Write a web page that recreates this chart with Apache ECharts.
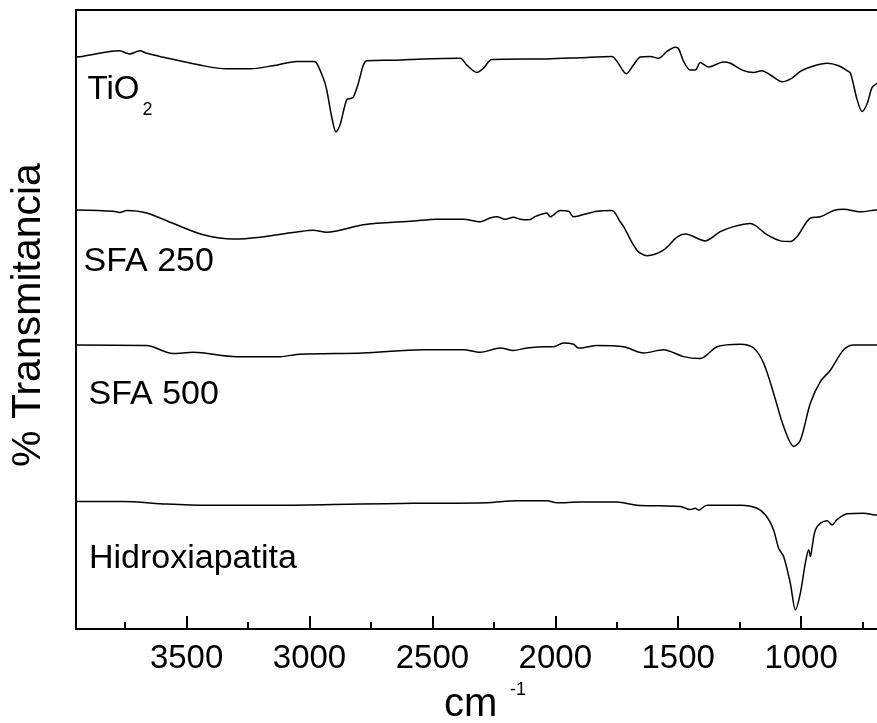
<!DOCTYPE html>
<html><head><meta charset="utf-8">
<script src="https://cdn.jsdelivr.net/npm/echarts@6/dist/echarts.min.js"></script>
<style>html,body{margin:0;padding:0;background:#fff}#c{width:877px;height:723px}</style>
</head><body><div id="c"></div>
<script>
const FONT = "'Liberation Sans', Arial, sans-serif";

// Wavenumbers (cm-1) and % transmittance (offset, arbitrary) for each spectrum
const tio2Wn = [3950,3925,3812,3772,3743,3731,3702,3690,3662,3609,3446,3336,3242,3149,3052,2986,2974,2944,2930,2910,2892,2876,2849,2835,2822,2801,2781,2767,2645,2537,2387,2360,2319,2292,2258,2034,1899,1770,1749,1711,1682,1654,1614,1580,1546,1512,1498,1478,1451,1430,1410,1376,1315,1288,1234,1193,1159,1125,1077,1037,1003,962,894,847,813,799,772,752,731,711,689,680];
const tio2T  = [92.4,92.5,93.3,93.4,93.0,92.9,93.3,93.4,93.0,92.5,91.1,90.5,90.5,91.0,91.7,91.7,91.6,89.0,87.1,82.8,80.3,81.4,85.5,85.7,85.9,88.2,91.1,91.8,91.9,92.1,92.2,91.1,89.9,90.6,92.0,92.1,92.3,92.5,91.7,89.7,91.1,92.4,92.5,92.2,93.3,94.0,93.7,91.7,90.3,90.3,91.5,90.8,91.6,91.4,90.2,89.9,90.2,89.5,88.4,89.0,90.1,90.8,91.4,91.0,90.2,89.8,85.5,83.6,84.9,87.5,88.2,88.5];

const sfa250Wn = [3950,3799,3772,3744,3663,3541,3432,3310,3202,3039,2985,2930,2781,2577,2482,2374,2306,2265,2238,2204,2170,2143,2109,2078,2034,2021,1980,1946,1926,1899,1831,1770,1736,1722,1668,1627,1560,1505,1471,1390,1329,1274,1206,1139,1084,1044,1016,962,921,867,827,759,689,680];
const sfa250T  = [67.7,67.5,67.3,67.6,67.2,65.3,63.7,63.0,63.3,64.2,64.4,64.1,65.3,65.9,66.2,66.2,65.8,66.4,66.6,66.2,66.5,66.2,66.1,66.7,67.2,66.6,67.6,67.5,66.6,66.8,67.5,67.6,65.8,65.0,61.2,60.3,61.2,63.3,63.8,62.7,64.2,65.0,65.5,63.7,62.7,62.6,63.4,66.4,66.6,67.6,67.8,67.4,67.7,67.7];

const sfa500Wn = [3950,3677,3663,3556,3473,3297,3120,3039,2781,2537,2374,2306,2224,2170,2116,2034,2007,1967,1926,1906,1899,1831,1722,1641,1560,1478,1410,1342,1247,1193,1152,1112,1071,1030,1003,962,921,881,827,786,689,680];
const sfa500T  = [45.9,45.8,45.8,44.5,44.7,44.0,44.0,44.4,44.6,45.1,45.1,44.7,45.4,45.0,45.4,45.6,45.6,46.2,46.0,45.4,45.4,45.8,45.6,44.6,45.1,44.0,43.7,45.6,46.0,45.4,42.9,38.1,32.7,29.5,30.5,36.5,40.0,41.8,45.1,45.9,45.9,45.9];

const hapWn = [3950,3758,3582,3419,3120,2794,2577,2279,2156,2034,1994,1899,1749,1668,1573,1491,1451,1430,1417,1383,1247,1179,1139,1112,1091,1071,1044,1023,1003,983,969,962,955,942,921,894,874,853,813,745,689,680];
const hapT  = [20.6,20.6,20.2,20.0,20.0,20.2,20.3,20.4,20.7,20.7,20.4,20.5,20.5,20.0,19.9,19.8,19.3,19.5,19.2,20.0,20.0,19.5,18.1,16.0,13.0,11.7,7.4,3.1,5.8,10.6,12.8,11.7,13.3,16.0,17.1,17.5,16.8,17.7,18.6,18.7,18.4,18.4];

const seriesNames = ['TiO2','SFA 250','SFA 500','Hidroxiapatita'];
const xMin = 500, xMax = 3950, xStep = 500;

function zip(a, b) { return a.map((v, i) => [v, b[i]]); }
const allData = [zip(tio2Wn, tio2T), zip(sfa250Wn, sfa250T), zip(sfa500Wn, sfa500T), zip(hapWn, hapT)];

const chart = echarts.init(document.getElementById('c'), null, {renderer: 'canvas'});

function txt(text, x, y, size, extra) {
  return Object.assign({
    type: 'text', x: x, y: y, silent: true,
    style: {
      text: text, fill: '#000', font: size + 'px ' + FONT,
      textAlign: 'left', align: 'left', textVerticalAlign: 'middle', verticalAlign: 'middle'
    }
  }, extra || {});
}

const option = {
  backgroundColor: '#fff',
  animation: false,
  grid: { left: 76, right: -47, top: 10, bottom: 94, containLabel: false, outerBoundsMode: 'none' },
  xAxis: [{
    type: 'value', inverse: true, min: xMin, max: xMax, interval: xStep,
    axisLine: { show: true, onZero: false, lineStyle: { color: '#000', width: 2 } },
    axisTick: { show: true, inside: true, length: 13, lineStyle: { color: '#000', width: 2 } },
    minorTick: { show: true, splitNumber: 2, length: 7, lineStyle: { color: '#000', width: 2 } },
    axisLabel: { show: true, margin: 13, fontSize: 33, color: '#000', fontFamily: FONT,
      showMinLabel: false, showMaxLabel: false, formatter: v => String(v) },
    splitLine: { show: false }, minorSplitLine: { show: false }
  }, {
    type: 'value', position: 'top', inverse: true, min: xMin, max: xMax, interval: xStep,
    axisLine: { show: true, onZero: false, lineStyle: { color: '#000', width: 2 } },
    axisTick: { show: false }, axisLabel: { show: false }, splitLine: { show: false }
  }],
  yAxis: {
    type: 'value', min: 0, max: 100,
    axisLine: { show: true, onZero: false, lineStyle: { color: '#000', width: 2 } },
    axisTick: { show: false }, axisLabel: { show: false }, splitLine: { show: false }
  },
  series: allData.map((d, i) => ({
    name: seriesNames[i], type: 'line', data: d, xAxisIndex: 0,
    showSymbol: false, symbol: 'none', smooth: 0.3,
    lineStyle: { color: '#000', width: 1.5 }, clip: true
  })),
  graphic: [
    txt('TiO', 87.5, 90, 33),
    txt('2', 142.5, 110, 18),
    txt('SFA 250', 83.5, 262, 34),
    txt('SFA 500', 88.5, 394.5, 34),
    txt('Hidroxiapatita', 89, 559, 34),
    txt('cm', 444, 705, 40),
    txt('-1', 510, 690.5, 18),
    {
      type: 'text', x: 29, y: 315, rotation: Math.PI / 2, silent: true,
      style: { text: '% Transmitancia', fill: '#000', font: '41px ' + FONT,
        textAlign: 'center', align: 'center', textVerticalAlign: 'middle', verticalAlign: 'middle' }
    }
  ]
};
chart.setOption(option);
</script>
</body></html>
